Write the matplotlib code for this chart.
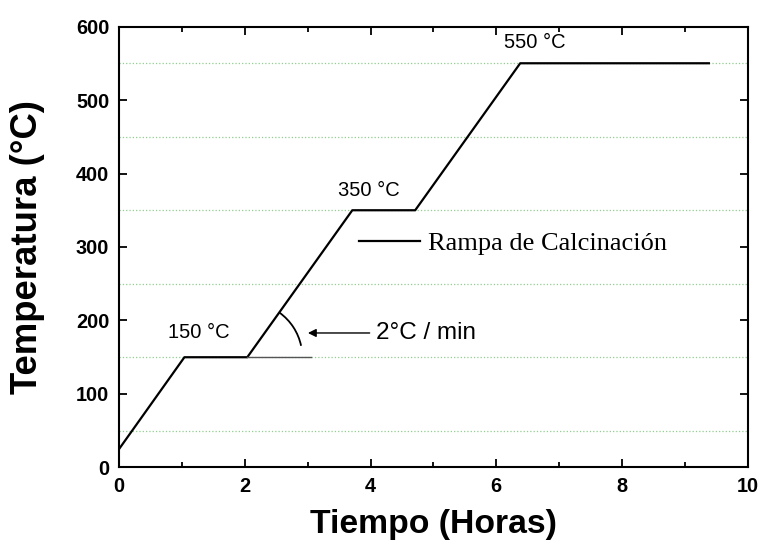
import matplotlib
matplotlib.use('Agg')
import matplotlib.pyplot as plt
from matplotlib.patches import Arc
from matplotlib.ticker import MultipleLocator

# calcination ramp: 2 C/min heating, 1 h holds
tiempo = [0, 1.04, 2.04, 3.71, 4.71, 6.38, 9.38]
temperatura = [25, 150, 150, 350, 350, 550, 550]

mesetas = ["150 °C", "350 °C", "550 °C"]
meseta_x = [1.27, 3.97, 6.61]
meseta_y = [184, 377, 578]

plt.rcParams['font.family'] = ['Liberation Sans', 'DejaVu Sans']

fig = plt.figure(figsize=(7.6, 5.49), dpi=100)
ax = fig.add_axes([0.1566, 0.1485, 0.8274, 0.8032])

ax.plot(tiempo, temperatura, color='black', lw=1.6, label='Rampa de Calcinación')

ax.set_xlim(0, 10)
ax.set_ylim(0, 600)

# reference line and angle arc for the ramp (arc drawn in pixels so it stays round)
ax.plot([tiempo[2], 3.05], [150, 150], color='#555555', lw=1.0)
cx, cy = ax.transData.transform((tiempo[2], 150))
ax.add_patch(Arc((cx, cy), 110, 110, theta1=12, theta2=54, color='black',
                 lw=1.3, transform=None))
ax.annotate('', xy=(2.96, 183), xytext=(4.03, 183),
            arrowprops=dict(arrowstyle='-|>', color='black', lw=1.0,
                            mutation_scale=12))
ax.text(4.08, 183, '2°C / min', fontsize=17.5, va='center', ha='left')

for lab, x, y in zip(mesetas, meseta_x, meseta_y):
    ax.text(x, y, lab, fontsize=14.5, ha='center', va='center')

ax.xaxis.set_major_locator(MultipleLocator(2))
ax.xaxis.set_minor_locator(MultipleLocator(1))
ax.yaxis.set_major_locator(MultipleLocator(100))
ax.yaxis.set_minor_locator(MultipleLocator(50))
ax.grid(which='minor', axis='y', color='#8fcf8f', ls=':', lw=0.9)
ax.set_axisbelow(True)

ax.tick_params(which='both', direction='in', top=True, right=True, width=1.3)
ax.tick_params(which='major', length=6, labelsize=14.3, pad=7)
ax.tick_params(axis='x', which='minor', length=3.5)
ax.tick_params(axis='y', which='minor', length=0)
for t in ax.get_xticklabels() + ax.get_yticklabels():
    t.set_fontweight('bold')
for s in ax.spines.values():
    s.set_linewidth(1.5)

ax.set_xlabel('Tiempo (Horas)', fontsize=24.3, fontweight='bold', labelpad=9)
ax.set_ylabel('Temperatura (°C)', fontsize=26.3, fontweight='bold', labelpad=22)

leg = ax.legend(loc='center left', bbox_to_anchor=(0.3816, 0.509), frameon=False,
                prop={'family': 'Liberation Serif', 'size': 19}, handlelength=2.3,
                handletextpad=0.3, borderpad=0, borderaxespad=0)

fig.savefig('out.png', dpi=100)
